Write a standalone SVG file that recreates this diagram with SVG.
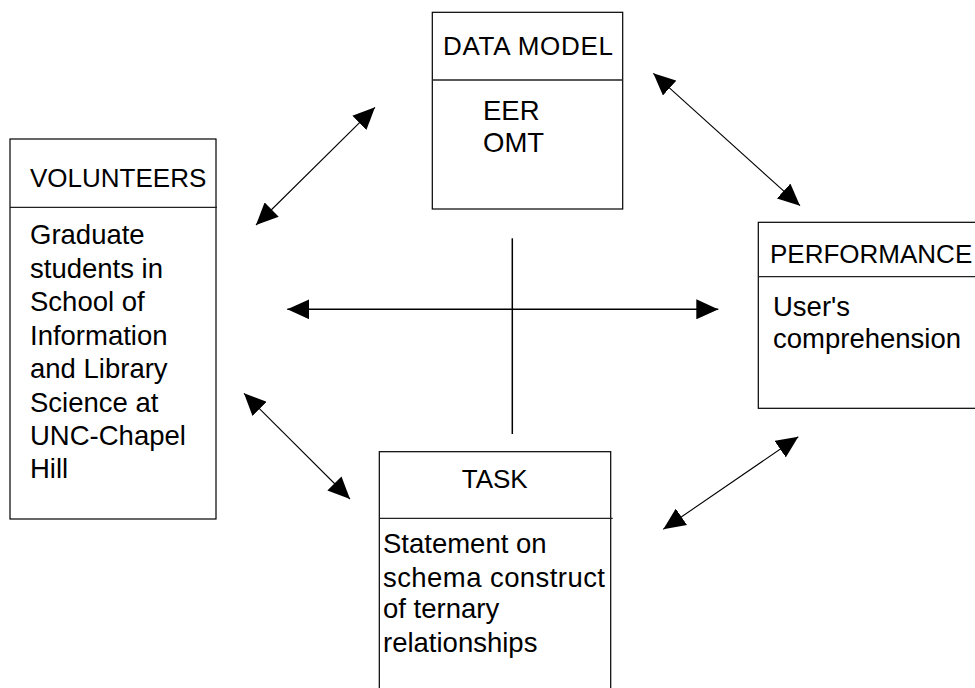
<svg xmlns="http://www.w3.org/2000/svg" width="975" height="688" viewBox="0 0 975 688">
  <style>
    .box { fill: #ffffff; stroke: #000000; stroke-width: 1.2; }
    .sep { stroke: #222222; stroke-width: 1.3; }
    .head { font-family: "Liberation Sans", Arial, sans-serif; font-size: 26px; fill: #000000; }
    .body { font-family: "Liberation Sans", Arial, sans-serif; font-size: 27.5px; fill: #000000; }
    .link { stroke: #000000; stroke-width: 1.1; fill: none; }
    .arrow { marker-start: url(#head); marker-end: url(#head); }
  </style>
  <defs>
    <marker id="head" viewBox="0 -10 22 20" refX="22" refY="0" markerWidth="22" markerHeight="20" markerUnits="userSpaceOnUse" orient="auto-start-reverse">
      <path d="M0,-10 L22,0 L0,10 z" fill="#000000"/>
    </marker>
  </defs>

  <rect width="975" height="688" fill="#ffffff"/>

  <g id="connectors">
    <line class="link arrow" x1="256" y1="225" x2="375" y2="107.3"/>
    <line class="link arrow" x1="653.3" y1="73.3" x2="800" y2="205.7"/>
    <line class="link arrow" x1="287.3" y1="309.3" x2="718.3" y2="309.3" style="stroke-width:1.5"/>
    <line class="link" x1="512.3" y1="238.3" x2="512.3" y2="434" style="stroke-width:1.5"/>
    <line class="link arrow" x1="244" y1="393.3" x2="350" y2="499"/>
    <line class="link arrow" x1="663.3" y1="529.3" x2="798.3" y2="436.7"/>
  </g>

  <g id="data-model">
    <rect class="box" x="432.3" y="12.3" width="190.4" height="196.7"/>
    <line class="sep" x1="432.3" y1="80" x2="622.7" y2="80"/>
    <text class="head" x="443" y="55" textLength="170">DATA MODEL</text>
    <text class="body" x="483" y="120">EER</text>
    <text class="body" x="483" y="151.7">OMT</text>
  </g>

  <g id="volunteers">
    <rect class="box" x="10" y="139" width="206" height="380"/>
    <line class="sep" x1="10" y1="207.3" x2="217" y2="207.3"/>
    <text class="head" x="30" y="187.3">VOLUNTEERS</text>
    <text class="body" x="30" y="244">Graduate</text>
    <text class="body" x="30" y="277.5">students in</text>
    <text class="body" x="30" y="311">School of</text>
    <text class="body" x="30" y="344.5">Information</text>
    <text class="body" x="30" y="378">and Library</text>
    <text class="body" x="30" y="411.5">Science at</text>
    <text class="body" x="30" y="445">UNC-Chapel</text>
    <text class="body" x="30" y="478">Hill</text>
  </g>

  <g id="performance">
    <rect class="box" x="758.3" y="222.3" width="230" height="186"/>
    <line class="sep" x1="758.3" y1="276.7" x2="975" y2="276.7"/>
    <text class="head" x="770" y="262.7">PERFORMANCE</text>
    <text class="body" x="773" y="316">User's</text>
    <text class="body" x="773" y="348.3">comprehension</text>
  </g>

  <g id="task">
    <rect class="box" x="379.3" y="451.7" width="231.4" height="260"/>
    <line class="sep" x1="379.3" y1="518.3" x2="612.7" y2="518.3"/>
    <text class="head" x="461.7" y="488.3">TASK</text>
    <text class="body" x="383" y="552.7">Statement on</text>
    <text class="body" x="383" y="586.7" textLength="222">schema construct</text>
    <text class="body" x="383" y="618.3">of ternary</text>
    <text class="body" x="383" y="651.7">relationships</text>
  </g>
</svg>
